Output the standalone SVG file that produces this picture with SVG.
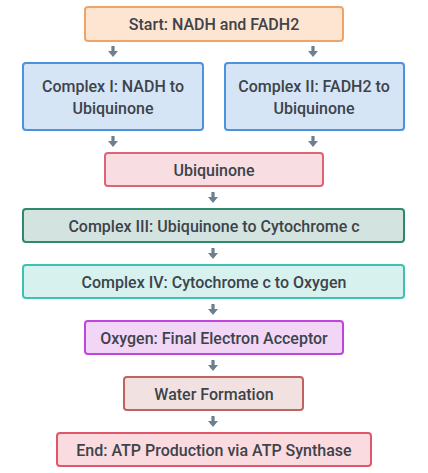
<svg xmlns="http://www.w3.org/2000/svg" width="428" height="473" viewBox="0 0 428 473">
<style>
.n rect{stroke-width:2}
.n text{font-family:Roboto,"Noto Sans",sans-serif;font-size:16px;font-weight:500;fill:#3d434a;text-anchor:middle}
</style>
<defs>
<path id="ar" d="M-1.6,0 H1.6 V5 H5 L0,11 L-5,5 H-1.6 Z"/>
</defs>
<rect width="428" height="473" fill="#ffffff"/>
<g id="connectors" fill="#6e7f8e">
<use href="#ar" x="113" y="46"/>
<use href="#ar" x="313" y="46"/>
<use href="#ar" x="113" y="136"/>
<use href="#ar" x="313" y="136"/>
<use href="#ar" x="213" y="192"/>
<use href="#ar" x="213" y="248"/>
<use href="#ar" x="213" y="304"/>
<use href="#ar" x="213" y="360"/>
<use href="#ar" x="213" y="416"/>
</g>
<g class="n" id="start"><rect x="85" y="7" width="258" height="34" rx="3" fill="#fde5d2" stroke="#f0a366"/><text x="214" y="30">Start: NADH and FADH2</text></g>
<g class="n" id="complex1"><rect x="23" y="63" width="180" height="67" rx="3" fill="#d5e5f5" stroke="#4b93dc"/><text x="113" y="92">Complex I: NADH to</text><text x="113" y="114">Ubiquinone</text></g>
<g class="n" id="complex2"><rect x="225" y="63" width="179" height="67" rx="3" fill="#d5e5f5" stroke="#4b93dc"/><text x="314" y="92">Complex II: FADH2 to</text><text x="314" y="114">Ubiquinone</text></g>
<g class="n" id="ubiquinone"><rect x="105" y="153" width="218" height="33" rx="3" fill="#f8dde2" stroke="#de6474"/><text x="214" y="176">Ubiquinone</text></g>
<g class="n" id="complex3"><rect x="23" y="209" width="381" height="33" rx="3" fill="#d3e3df" stroke="#2f8a6c"/><text x="214" y="232">Complex III: Ubiquinone to Cytochrome c</text></g>
<g class="n" id="complex4"><rect x="23" y="265" width="381" height="33" rx="3" fill="#d6f1ee" stroke="#3fc1b2"/><text x="214" y="288">Complex IV: Cytochrome c to Oxygen</text></g>
<g class="n" id="oxygen"><rect x="85" y="321" width="258" height="33" rx="3" fill="#f2d6f6" stroke="#c044de"/><text x="214" y="344">Oxygen: Final Electron Acceptor</text></g>
<g class="n" id="water"><rect x="124" y="377" width="179" height="33" rx="3" fill="#f1e2e1" stroke="#c0625e"/><text x="214" y="400">Water Formation</text></g>
<g class="n" id="end"><rect x="57" y="433" width="314" height="33" rx="3" fill="#fadbdf" stroke="#e0566a"/><text x="214" y="456">End: ATP Production via ATP Synthase</text></g>
</svg>
